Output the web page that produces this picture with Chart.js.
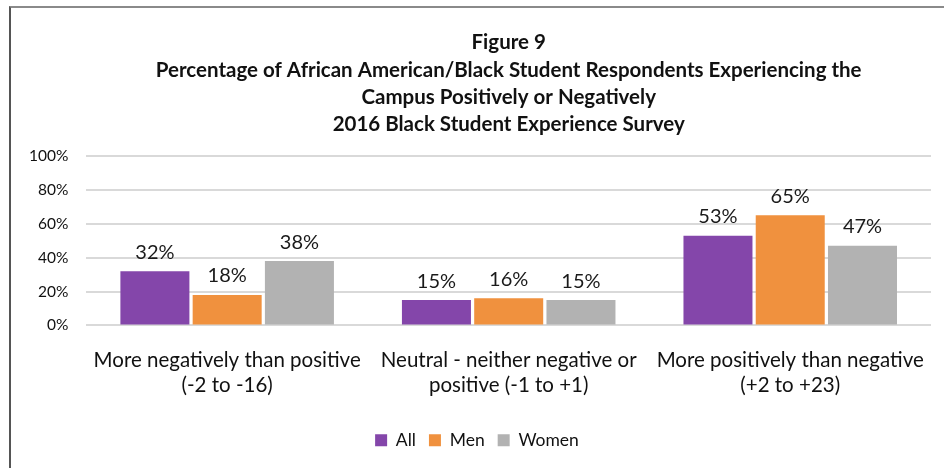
<!DOCTYPE html>
<html>
<head>
<meta charset="utf-8">
<script src="https://cdn.jsdelivr.net/npm/chart.js@4/dist/chart.umd.min.js"></script>
<style>
  html, body { margin: 0; padding: 0; background: #fff; overflow: hidden; }
  #frame {
    position: absolute; left: 9px; top: 6px; width: 940px; height: 470px;
    border-top: 2px solid #8a8a8a; border-left: 2px solid #555;
  }
  #wrap { position: absolute; left: 11px; top: 8px; width: 933px; height: 460px; }
</style>
</head>
<body>
<div id="frame"></div>
<div id="wrap"><canvas id="c"></canvas></div>
<script>
// categories and series
const categories = [
    ['More negatively than positive', '(-2 to -16)'],
    ['Neutral - neither negative or', 'positive (-1 to +1)'],
    ['More positively than negative', '(+2 to +23)'],
];
const allValues = [32, 15, 53];
const menValues = [18, 16, 65];
const womenValues = [38, 15, 47];
const titleLines = [
    'Figure 9',
    'Percentage of African American/Black Student Respondents Experiencing the',
    'Campus Positively or Negatively',
    '2016 Black Student Experience Survey',
];

const FONT = 'Lato, "Liberation Sans", sans-serif';

// simple value labels above each bar
const barLabels = {
    id: 'barLabels',
    afterDatasetsDraw(chart) {
        const ctx = chart.ctx;
        ctx.save();
        ctx.font = '20px ' + FONT;
        ctx.fillStyle = '#1a1a1a';
        ctx.textAlign = 'center';
        ctx.textBaseline = 'bottom';
        chart.data.datasets.forEach((ds, i) => {
            const meta = chart.getDatasetMeta(i);
            meta.data.forEach((bar, j) => {
                ctx.fillText(ds.data[j] + '%', bar.x, bar.y - 9);
            });
        });
        ctx.restore();
    },
};

new Chart(document.getElementById('c'), {
    type: 'bar',
    data: {
        labels: categories,
        datasets: [
            { label: 'All', data: allValues, backgroundColor: '#8446AA' },
            { label: 'Men', data: menValues, backgroundColor: '#F0913E' },
            { label: 'Women', data: womenValues, backgroundColor: '#B2B2B2' },
        ],
    },
    options: {
        responsive: true,
        maintainAspectRatio: false,
        animation: false,
        devicePixelRatio: 1,
        layout: { padding: { left: 12, right: 13, top: 21, bottom: 9 } },
        datasets: { bar: { barPercentage: 0.955, categoryPercentage: 0.77 } },
        plugins: {
            title: {
                display: true,
                fullSize: false,
                text: titleLines,
                color: '#111',
                font: { family: FONT, size: 20.5, weight: 'bold', lineHeight: 1.33 },
                padding: { top: 0, bottom: 18 },
            },
            legend: {
                position: 'bottom',
                labels: {
                    color: '#111',
                    font: { family: FONT, size: 17.5 },
                    boxWidth: 12,
                    boxHeight: 12,
                    padding: 13,
                },
            },
            tooltip: { enabled: false },
        },
        scales: {
            x: {
                grid: { display: false },
                border: { display: false },
                ticks: { color: '#111', font: { family: FONT, size: 20.5, lineHeight: 1.22 }, maxRotation: 0, padding: 14 },
                afterFit: scale => { scale.height += 7; },
            },
            y: {
                min: 0,
                max: 100,
                grid: { color: '#d9d9d9', lineWidth: 2, drawTicks: false },
                border: { display: false },
                ticks: {
                    stepSize: 20,
                    color: '#111',
                    font: { family: FONT, size: 15.5 },
                    padding: 18,
                    callback: v => v + '%',
                },
                afterFit: scale => { scale.width -= 12; },
            },
        },
    },
    plugins: [barLabels],
});
</script>
</body>
</html>
